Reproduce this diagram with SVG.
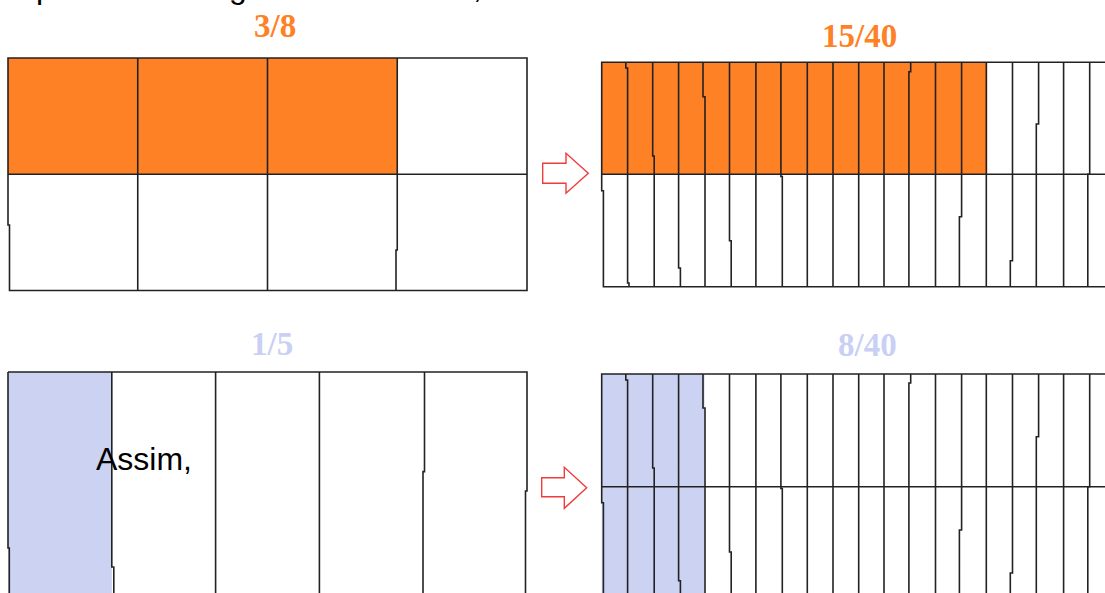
<svg xmlns="http://www.w3.org/2000/svg" width="1105" height="593" viewBox="0 0 1105 593">
<style>
.ln{stroke:#222;stroke-width:1.6;fill:none}
.or{fill:#fe8126}
.bl{fill:#cbd2f2}
.lbl{font-family:"Liberation Serif",serif;font-weight:bold;font-size:33px}
.arr{fill:#fff;stroke:#f03c3c;stroke-width:1.4;stroke-linejoin:miter}
.txt{font-family:"Liberation Sans",Arial,sans-serif;font-size:32px;fill:#000}
</style>
<rect width="1105" height="593" fill="#fff"/>
<g id="header">
<text class="txt" x="36" y="-2">p</text>
<text class="txt" x="229" y="-2">g</text>
<text class="txt" x="473" y="-2">,</text>
</g>
<g id="fig-3-8">
<text class="lbl" x="254" y="37" fill="#fe8126">3/8</text>
<rect class="or" x="8" y="58" width="389.25" height="116.3"/>
<path class="ln" d="M8 58H527V290.5H9.5V225H8Z"/>
<line class="ln" x1="8" y1="174.3" x2="527" y2="174.3"/>
<line class="ln" x1="137.75" y1="58" x2="137.75" y2="290.5"/>
<line class="ln" x1="267.5" y1="58" x2="267.5" y2="290.5"/>
<path class="ln" d="M397.25 58V250H396V290.5"/>
</g>
<g id="fig-15-40">
<text class="lbl" x="822" y="47" fill="#fe8126">15/40</text>
<rect class="or" x="601.7" y="62.3" width="385.5" height="112"/>
<path class="ln" d="M1116 62.3H601.7V190.7H603.4V286.7H1116M601.7 174.3H1116"/>
<path class="ln" d="M625.8 62.3V68H627.6V283H629V286.7M652.7 62.3V156H654.2V286.7M678.6 62.3V268H680.4V286.7M703 62.3V96.7H705V286.7M729.5 62.3V240.7H731.2V286.7M755.9 62.3V286.7M780.9 62.3V176.5H782.3V286.7M807.3 62.3V286.7M833 62.3V286.7M858.7 62.3V286.7M884 62.3V286.7M910.7 62.3V71.7H908.9V286.7M935.5 62.3V286.7M961.6 62.3V216.7H959.4V286.7M986.3 62.3V286.7M1012.5 62.3V260.7H1010.3V286.7M1038.6 62.3V124H1036.3V286.7M1063.6 62.3V286.7M1089.7 62.3V174.3H1087.8V286.7"/>
</g>
<g id="fig-1-5">
<text class="lbl" x="251" y="355" fill="#c9d0f4">1/5</text>
<rect class="bl" x="8" y="372" width="103.8" height="230"/>
<path class="ln" d="M8 372H527V491H525.5V600M8 372V548H9.3V600"/>
<path class="ln" d="M111.8 372V567H113.8V600M215.6 372V600M319.4 372V600M424.5 372V471.6H423V600"/>
</g>
<g id="fig-8-40">
<text class="lbl" x="838" y="356" fill="#c9d0f4">8/40</text>
<rect class="bl" x="601.7" y="374" width="102.8" height="230"/>
<path class="ln" d="M1116 374H601.7V502.7H603.4V600M601.7 486.7H1116"/>
<path class="ln" d="M625.8 374V380H627.6V600M652.7 374V468H654.2V600M678.6 374V580.7H680.4V600M703 374V408H705V600M729.5 374V552H731.2V600M755.9 374V600M780.9 374V488.5H782.3V600M807.3 374V600M833 374V600M858.7 374V600M884 374V600M910.7 374V383H908.9V600M935.5 374V600M961.6 374V530H959.4V600M986.3 374V600M1012.5 374V573H1010.3V600M1038.6 374V436.7H1036.3V600M1063.6 374V600M1089.7 374V486.7H1087.8V600"/>
</g>
<text class="txt" x="96" y="470">Assim,</text>
<g id="connectors">
<path class="arr" d="M542.7 163.3H566V153.3L588.3 173.3L566 193.3V183.3H542.7Z"/>
<path class="arr" d="M541.7 477.7H564.3V467.3L586.7 487.7L564.3 508.3V496.7H541.7Z"/>
</g>
</svg>
